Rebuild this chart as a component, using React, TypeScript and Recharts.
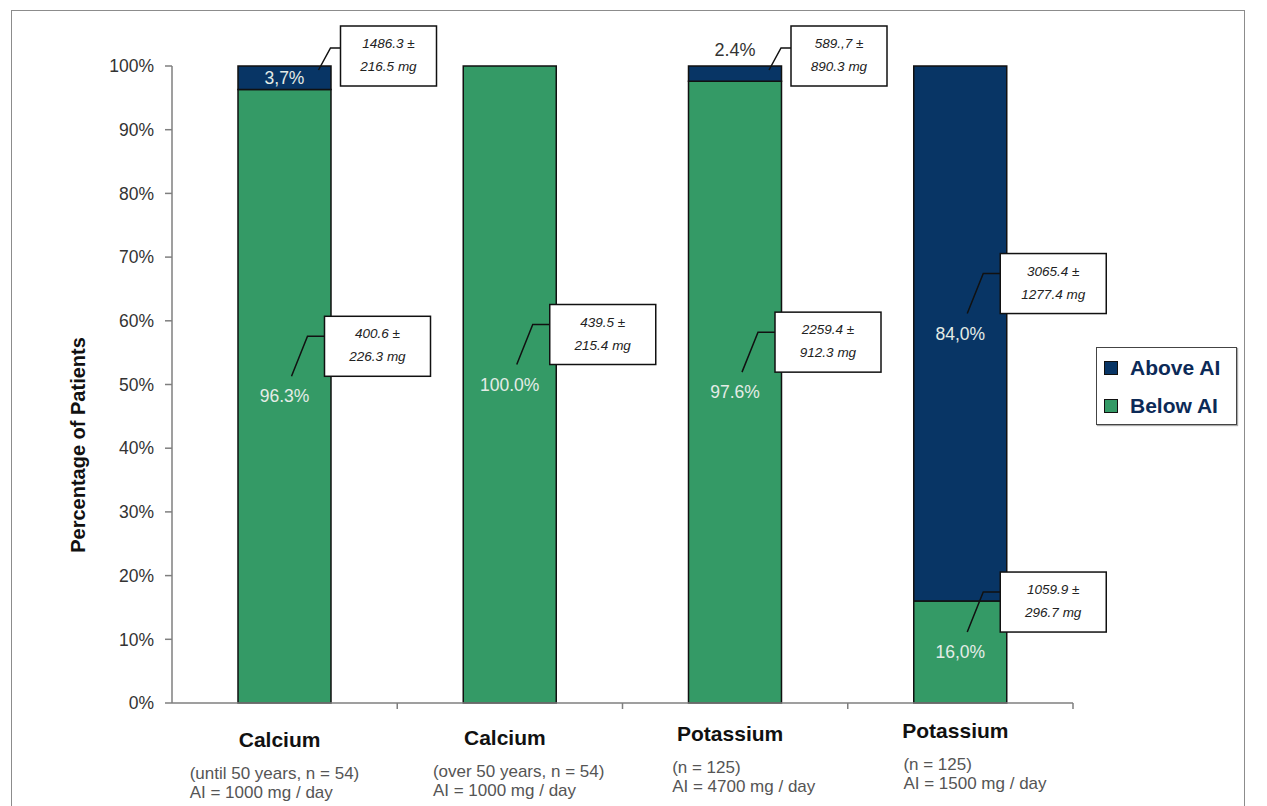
import React from 'react';
import { BarChart, Bar, XAxis, YAxis, LabelList } from 'recharts';

const categories = ['Calcium', 'Calcium', 'Potassium', 'Potassium'];
const groupNotes = ['(until 50 years, n = 54)', '(over 50 years, n = 54)', '(n = 125)', '(n = 125)'];
const aiNotes = ['AI = 1000 mg / day', 'AI = 1000 mg / day', 'AI = 4700 mg / day', 'AI = 1500 mg / day'];

const belowAI = [96.3, 100.0, 97.6, 16.0];
const aboveAI = [3.7, 0, 2.4, 84.0];
const belowText = ['96.3%', '100.0%', '97.6%', '16,0%'];
const aboveText = ['3,7%', '', '2.4%', '84,0%'];

const belowIntake = [
  ['400.6 ±', '226.3 mg'],
  ['439.5 ±', '215.4 mg'],
  ['2259.4 ±', '912.3 mg'],
  ['1059.9 ±', '296.7 mg'],
];
const aboveIntake = [['1486.3 ±', '216.5 mg'], null, ['589.,7 ±', '890.3 mg'], ['3065.4 ±', '1277.4 mg']];

const yTicks = [0, 10, 20, 30, 40, 50, 60, 70, 80, 90, 100];

const data = categories.map((name, i) => ({ name, idx: i, below: belowAI[i], above: aboveAI[i] }));

const W = 1267;
const H = 806;
const PLOT_LEFT = 172;
const PLOT_RIGHT = 1073;
const PLOT_TOP = 66;
const PLOT_BOTTOM = 703;
const FONT = 'Arial, "Liberation Sans", sans-serif';
const NAVY = '#083565';
const GREEN = '#349a66';

// per-category text nudges, to follow the reference layout
const SUB_DX = [-95, -77, -63, -57];
const RISE = [0, 2, 6, 9];

const Callout = ({ lines, left, top, width, from, mid }: any) => (
  <g>
    <polyline
      points={`${from[0]},${from[1]} ${mid[0]},${mid[1]} ${left},${mid[1]}`}
      fill="none"
      stroke="#111"
      strokeWidth={1.5}
    />
    <rect x={left} y={top} width={width} height={60} fill="#fff" stroke="#111" strokeWidth={1.5} />
    <text x={left + width / 2} y={top + 22} textAnchor="middle" fontStyle="italic" fontSize={13.5} fill="#222" fontFamily={FONT}>
      {lines[0]}
    </text>
    <text x={left + width / 2} y={top + 45} textAnchor="middle" fontStyle="italic" fontSize={13.5} fill="#222" fontFamily={FONT}>
      {lines[1]}
    </text>
  </g>
);

const insideCallout = (lines: string[], cx: number, cy: number) => (
  <Callout
    lines={lines}
    left={cx + 40}
    top={cy - 80}
    width={106}
    from={[cx + 7, cy - 20]}
    mid={[cx + 23, cy - 60]}
  />
);

const getBox = (p: any) => {
  const vb = p.viewBox || {};
  return {
    x: Number(p.x ?? vb.x),
    y: Number(p.y ?? vb.y),
    width: Number(p.width ?? vb.width),
    height: Number(p.height ?? vb.height),
  };
};

const renderBelow = (p: any) => {
  const { x, y, width, height } = getBox(p);
  const i = Number(p.value);
  const cx = x + width / 2;
  const cy = y + height / 2;
  return (
    <g>
      <text x={cx} y={cy + 6} textAnchor="middle" fontSize={17.5} fill="#e4ece6" fontFamily={FONT}>
        {belowText[i]}
      </text>
      {insideCallout(belowIntake[i], cx, cy)}
    </g>
  );
};

const renderAbove = (p: any) => {
  const { x, y, width, height } = getBox(p);
  const i = Number(p.value);
  if (!aboveAI[i]) return null;
  const cx = x + width / 2;
  const cy = y + height / 2;
  const lines = aboveIntake[i] as string[];
  const small = height < 60;
  return (
    <g>
      {height >= 20 ? (
        <text x={cx} y={cy + 6} textAnchor="middle" fontSize={17.5} fill="#e4ece6" fontFamily={FONT}>
          {aboveText[i]}
        </text>
      ) : (
        <text x={cx} y={y - 10} textAnchor="middle" fontSize={18} fill="#333" fontFamily={FONT}>
          {aboveText[i]}
        </text>
      )}
      {small ? (
        <Callout
          lines={lines}
          left={cx + 56}
          top={y - 40}
          width={96}
          from={[cx + 34, y + 4]}
          mid={[cx + 46, y - 18]}
        />
      ) : (
        insideCallout(lines, cx, cy)
      )}
    </g>
  );
};

const XTick = (props: any) => {
  const { x, index } = props;
  const band = (PLOT_RIGHT - PLOT_LEFT) / categories.length;
  const y0 = PLOT_BOTTOM - RISE[index];
  return (
    <g fontFamily={FONT}>
      <line x1={x + band / 2} x2={x + band / 2} y1={PLOT_BOTTOM} y2={PLOT_BOTTOM + 6} stroke="#7f7f7f" strokeWidth={1.5} />
      <text x={x - 5} y={y0 + 44} textAnchor="middle" fontWeight="bold" fontSize={21} fill="#111">
        {categories[index]}
      </text>
      <text x={x + SUB_DX[index]} y={y0 + 76} fontSize={17} fill="#555">
        {groupNotes[index]}
      </text>
      <text x={x + SUB_DX[index]} y={y0 + 95} fontSize={17} fill="#555">
        {aiNotes[index]}
      </text>
    </g>
  );
};

const LegendBox = () => (
  <div
    style={{
      position: 'absolute',
      left: 1096,
      top: 347,
      width: 139,
      height: 76,
      border: '1.5px solid #444',
      background: '#fff',
      boxShadow: '1px 1px 1px #aaa',
      fontFamily: FONT,
    }}
  >
    {[
      { label: 'Above AI', color: NAVY, top: 8 },
      { label: 'Below AI', color: GREEN, top: 46 },
    ].map((it) => (
      <div key={it.label} style={{ position: 'absolute', left: 7, top: it.top, display: 'flex', alignItems: 'center' }}>
        <div style={{ width: 12, height: 12, background: it.color, border: '1.5px solid #111' }} />
        <span style={{ marginLeft: 12, fontSize: 21, fontWeight: 'bold', color: '#0c2a57' }}>{it.label}</span>
      </div>
    ))}
  </div>
);

export default function App() {
  return (
    <div style={{ position: 'absolute', left: 0, top: 0, width: W, height: H, overflow: 'hidden', background: '#fff' }}>
      <div
        style={{
          position: 'absolute',
          left: 11,
          top: 10,
          width: 1232,
          height: 810,
          border: '1px solid #8c8c8c',
          borderBottom: 'none',
        }}
      />
      <div style={{ position: 'absolute', left: 0, top: 0 }}>
        <BarChart
          width={W}
          height={H}
          data={data}
          margin={{ top: PLOT_TOP, right: W - PLOT_RIGHT, bottom: 0, left: PLOT_LEFT - 80 }}
          barSize={93}
        >
          <XAxis
            dataKey="name"
            height={H - PLOT_BOTTOM}
            interval={0}
            tickLine={false}
            axisLine={{ stroke: '#7f7f7f', strokeWidth: 1.5 }}
            tick={<XTick />}
          />
          <YAxis
            width={80}
            domain={[0, 100]}
            ticks={yTicks}
            interval={0}
            tickFormatter={(v: number) => `${v}%`}
            tickSize={7}
            tickMargin={11}
            axisLine={{ stroke: '#7f7f7f', strokeWidth: 1.5 }}
            tickLine={{ stroke: '#7f7f7f', strokeWidth: 1.5 }}
            tick={{ fill: '#333', fontSize: 17.5, fontFamily: FONT }}
            label={{
              content: () => (
                <text
                  x={78}
                  y={445}
                  transform="rotate(-90 78 445)"
                  textAnchor="middle"
                  dominantBaseline="central"
                  fontWeight="bold"
                  fontSize={20}
                  fill="#111"
                  fontFamily={FONT}
                >
                  Percentage of Patients
                </text>
              ),
            }}
          />
          <Bar dataKey="below" name="Below AI" stackId="a" fill={GREEN} stroke="#111" strokeWidth={1.5} isAnimationActive={false}>
            <LabelList dataKey="idx" content={renderBelow} />
          </Bar>
          <Bar dataKey="above" name="Above AI" stackId="a" fill={NAVY} stroke="#111" strokeWidth={1.5} isAnimationActive={false}>
            <LabelList dataKey="idx" content={renderAbove} />
          </Bar>
        </BarChart>
      </div>
      <LegendBox />
    </div>
  );
}
